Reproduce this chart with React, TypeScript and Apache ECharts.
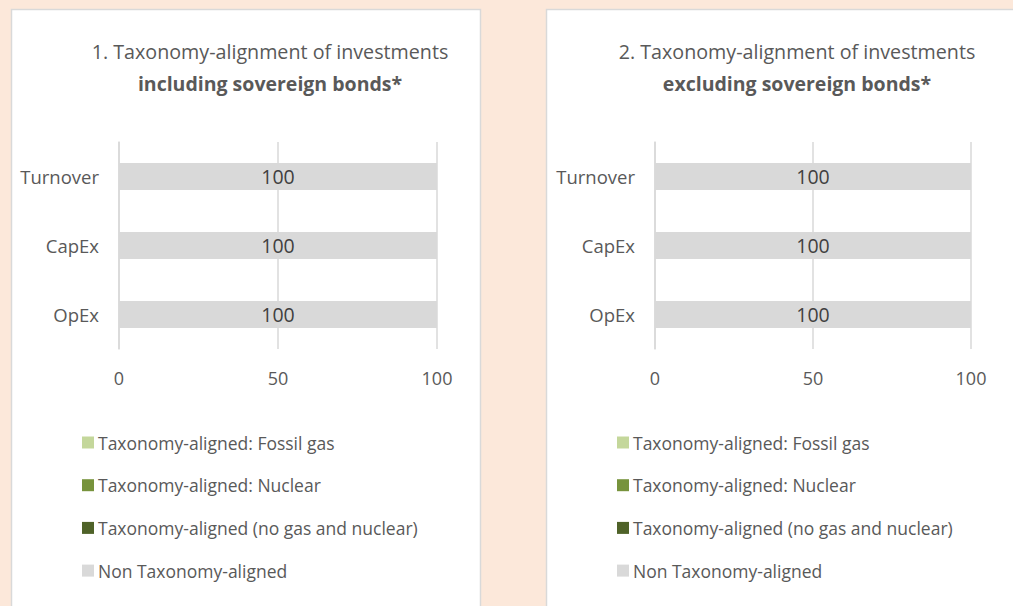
import { useEffect, useRef } from "react";
import * as echarts from "echarts";

const categories = ["Turnover", "CapEx", "OpEx"];
const seriesNames = [
  "Taxonomy-aligned: Fossil gas",
  "Taxonomy-aligned: Nuclear",
  "Taxonomy-aligned (no gas and nuclear)",
  "Non Taxonomy-aligned",
];
const seriesColors = ["#C4D79B", "#77933C", "#4F6228", "#D9D9D9"];

// Chart 1: including sovereign bonds
const fossilGasIncl = [0, 0, 0];
const nuclearIncl = [0, 0, 0];
const alignedIncl = [0, 0, 0];
const nonAlignedIncl = [100, 100, 100];

// Chart 2: excluding sovereign bonds
const fossilGasExcl = [0, 0, 0];
const nuclearExcl = [0, 0, 0];
const alignedExcl = [0, 0, 0];
const nonAlignedExcl = [100, 100, 100];

const titleLine1 = [
  "1. Taxonomy-alignment of investments",
  "2. Taxonomy-alignment of investments",
];
const titleLine2 = ["including sovereign bonds*", "excluding sovereign bonds*"];

const FONT = "'Open Sans', Lato, sans-serif";
const TEXT = "#595959";

function buildOption() {
  const dataSets = [
    [fossilGasIncl, nuclearIncl, alignedIncl, nonAlignedIncl],
    [fossilGasExcl, nuclearExcl, alignedExcl, nonAlignedExcl],
  ];
  const grids = [
    { left: 119, width: 318, top: 142, height: 207 },
    { left: 655, width: 316, top: 142, height: 207 },
  ];
  const series: any[] = [];
  dataSets.forEach((set, gi) => {
    set.forEach((vals, si) => {
      series.push({
        type: "bar",
        name: seriesNames[si],
        xAxisIndex: gi,
        yAxisIndex: gi,
        stack: "total" + gi,
        data: vals,
        barWidth: 27,
        itemStyle: { color: seriesColors[si] },
        label: {
          show: si === 3,
          position: "inside",
          color: "#404040",
          fontSize: 19.5,
          fontFamily: FONT,
        },
        emphasis: { disabled: true },
      });
    });
  });
  return {
    animation: false,
    backgroundColor: "#FCE8DA",
    textStyle: { fontFamily: FONT },
    graphic: {
      elements: [
        {
          type: "rect",
          z: -10,
          shape: { x: 11.5, y: 9.5, width: 469, height: 610 },
          style: { fill: "#FFFFFF", stroke: "#D9D9D9", lineWidth: 1.5 },
        },
        {
          type: "rect",
          z: -10,
          shape: { x: 546.5, y: 9.5, width: 480, height: 610 },
          style: { fill: "#FFFFFF", stroke: "#D9D9D9", lineWidth: 1.5 },
        },
        ...[270, 797].flatMap((cx, i) => [
          {
            type: "text",
            x: cx,
            y: 51,
            style: {
              text: titleLine1[i],
              fill: TEXT,
              fontSize: 19.7,
              fontFamily: FONT,
              align: "center",
              verticalAlign: "middle",
            },
          },
          {
            type: "text",
            x: cx,
            y: 83,
            style: {
              text: titleLine2[i],
              fill: TEXT,
              fontSize: 19.5,
              fontWeight: "bold",
              fontFamily: FONT,
              align: "center",
              verticalAlign: "middle",
            },
          },
        ]),
      ],
    },
    legend: [82, 617].map((left) => ({
      orient: "vertical",
      left,
      top: 433,
      padding: 0,
      itemWidth: 12,
      itemHeight: 12,
      itemGap: 23.7,
      icon: "rect",
      selectedMode: false,
      data: seriesNames,
      textStyle: {
        color: TEXT,
        fontSize: 17.5,
        fontFamily: FONT,
        padding: [0, 0, 0, -1],
        lineHeight: 19,
      },
    })),
    grid: grids,
    xAxis: grids.map((_, i) => ({
      type: "value",
      gridIndex: i,
      min: 0,
      max: 100,
      interval: 50,
      axisLine: { show: false },
      axisTick: { show: false },
      axisLabel: { color: TEXT, fontSize: 18, margin: 20, fontFamily: FONT },
      splitLine: { show: true, lineStyle: { color: "#D9D9D9", width: 1.5 } },
    })),
    yAxis: grids.map((_, i) => ({
      type: "category",
      gridIndex: i,
      data: categories,
      inverse: true,
      axisLine: { show: true, lineStyle: { color: "#D9D9D9", width: 1.5 } },
      axisTick: { show: false },
      axisLabel: { color: TEXT, fontSize: 18.5, margin: 20, fontFamily: FONT },
    })),
    series,
  };
}

export default function App() {
  const ref = useRef<HTMLDivElement>(null);
  useEffect(() => {
    const chart = echarts.init(ref.current!, null, { renderer: "svg" });
    chart.setOption(buildOption() as any);
    return () => chart.dispose();
  }, []);
  return (
    <div
      ref={ref}
      style={{ position: "fixed", left: 0, top: 0, width: 1013, height: 606 }}
    />
  );
}
